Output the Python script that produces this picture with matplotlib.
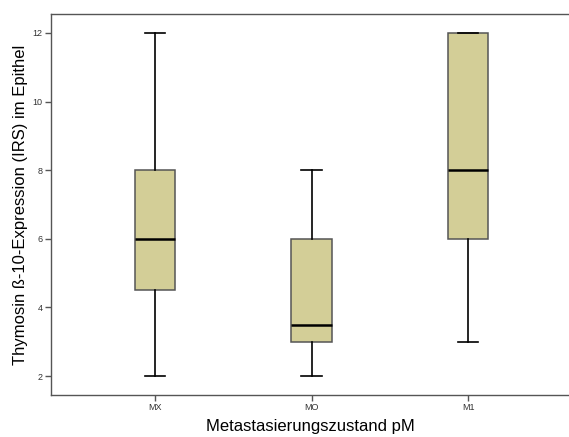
import matplotlib
matplotlib.use('Agg')
import matplotlib.pyplot as plt

# Kategorien und Boxplot-Kennwerte
categories = ['MX', 'MO', 'M1']
whislo = [2, 2, 3]
q1 = [4.5, 3, 6]
med = [6, 3.5, 8]
q3 = [8, 6, 12]
whishi = [12, 8, 12]
yticks = [2, 4, 6, 8, 10, 12]

plt.rcParams['font.family'] = ['Liberation Sans', 'DejaVu Sans']

stats = []
for i in range(len(categories)):
    stats.append({'label': categories[i], 'whislo': whislo[i], 'q1': q1[i],
                  'med': med[i], 'q3': q3[i], 'whishi': whishi[i], 'fliers': []})

fig = plt.figure(figsize=(5.69, 4.37), dpi=100)
ax = fig.add_axes([51 / 569, 1 - 395 / 437, 1 - 51 / 569, (395 - 14) / 437])

ax.bxp(stats, positions=[1, 2, 3], widths=0.26, patch_artist=True,
       showfliers=False,
       boxprops=dict(facecolor='#D3CE97', edgecolor='#555555', linewidth=1.1),
       medianprops=dict(color='black', linewidth=1.8),
       whiskerprops=dict(color='black', linewidth=1.2),
       capprops=dict(color='black', linewidth=1.2),
       capwidths=0.13)

ax.set_xlim(0.335, 3.645)
ax.set_ylim(1.45, 12.55)
ax.set_yticks(yticks)
ax.set_yticklabels([str(v) for v in yticks])
ax.set_xticks([1, 2, 3])
ax.set_xticklabels(categories)

for side in ['left', 'bottom', 'top']:
    ax.spines[side].set_color('#555555')
    ax.spines[side].set_linewidth(1.0)
ax.spines['right'].set_visible(False)
ax.tick_params(direction='out', length=4, width=1, color='#555555',
               labelsize=6.5, labelcolor='#333333', pad=2)

ax.set_ylabel('Thymosin ß-10-Expression (IRS) im Epithel', fontsize=12,
              labelpad=3)
ax.set_xlabel('Metastasierungszustand pM', fontsize=12, labelpad=5)

fig.savefig('out.png', dpi=100)
